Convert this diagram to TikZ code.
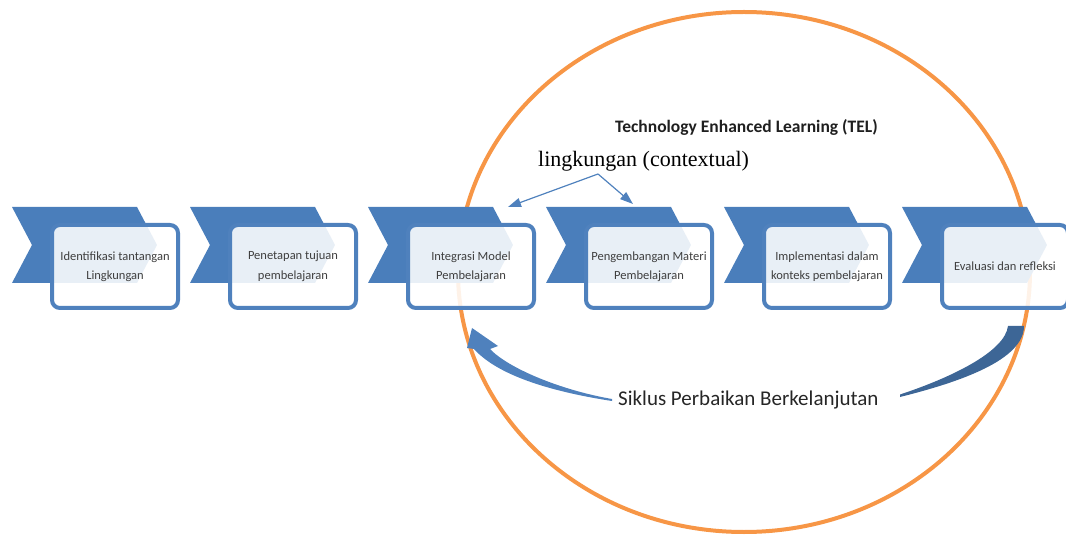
\documentclass[tikz,border=0pt]{standalone}
\usepackage{fontspec}
\setmainfont{Carlito}
\newfontfamily\serifface{Liberation Serif}
\usetikzlibrary{arrows.meta}
\definecolor{chev}{HTML}{4A7EBB}
\definecolor{boxline}{HTML}{4F81BD}
\definecolor{ring}{HTML}{F79646}
\definecolor{loopdark}{HTML}{3D6696}
\definecolor{txt}{HTML}{3F3F3F}
\begin{document}
\begin{tikzpicture}[x=1pt,y=-1pt,
  chevshape/.style={fill=chev},
  stagebox/.style={draw=boxline, line width=4pt, rounded corners=8pt,
    fill=white, fill opacity=0.88, text opacity=1,
    minimum width=126pt, minimum height=83pt, inner sep=0pt,
    align=center, text=txt, font=\fontsize{12.5}{19.5}\selectfont},
  ringline/.style={draw=ring, line width=4pt},
  pointer/.style={draw=boxline, line width=1.2pt,
    -{Triangle[length=13pt,width=9pt]}},
  loopleft/.style={fill=boxline},
  loopright/.style={fill=loopdark}]
\useasboundingbox (0,0) rectangle (1066,537);
\begin{scope}
\clip (0,0) rectangle (1066,537);

% outer ring of the TEL environment
\draw[ringline] (744,272) ellipse [x radius=286pt, y radius=260pt];

% process chevrons
\foreach \i in {0,...,5}{
  \pgfmathsetmacro{\ox}{12+178*\i}
  \fill[chevshape] (\ox,207) -- (\ox+125,207) -- (\ox+145,245)
    -- (\ox+125,283) -- (\ox,283) -- (\ox+20,245) -- cycle;
}

% stage boxes
\node[stagebox] (s1) at (115,266.5) {Identifikasi tantangan\\Lingkungan};
\node[stagebox] (s2) at (293,266.5) {Penetapan tujuan\\pembelajaran};
\node[stagebox] (s3) at (471,266.5) {Integrasi Model\\Pembelajaran};
\node[stagebox] (s4) at (649,266.5) {Pengembangan Materi\\Pembelajaran};
\node[stagebox] (s5) at (827,266.5) {Implementasi dalam\\konteks pembelajaran};
\node[stagebox] (s6) at (1005,266.5) {Evaluasi dan refleksi};
\end{scope}

% titles
\node[anchor=base west, inner sep=0pt, text=black!88,
  font=\bfseries\fontsize{17.5}{20}\selectfont] (tel) at (615,133)
  {Technology Enhanced Learning (TEL)};
\node[anchor=base west, inner sep=0pt,
  font=\serifface\fontsize{22}{24}\selectfont] (ctx) at (538,167)
  {lingkungan (contextual)};

% context pointers
\coordinate (fork) at (598,174);
\coordinate (ctxL) at (508,207);
\coordinate (ctxR) at (633,204);
\draw[pointer] (fork) -- (ctxL);
\draw[pointer] (fork) -- (ctxR);

% improvement cycle
\node[anchor=base west, inner sep=0pt, text=black!85,
  font=\fontsize{21}{24}\selectfont] (cycle) at (618,405)
  {Siklus Perbaikan Berkelanjutan};

\fill[loopleft] (612,401) .. controls (560,393) and (500,378) .. (474,349)
  -- (467,348) -- (472,328) -- (498,346) -- (490,349)
  .. controls (508,368) and (560,390) .. (612,399) -- cycle;

\fill[loopright] (900,397) .. controls (960,382) and (1024,360) .. (1024,326)
  -- (1008,326) .. controls (1005,352) and (950,378) .. (900,394.5) -- cycle;
\end{tikzpicture}
\end{document}
